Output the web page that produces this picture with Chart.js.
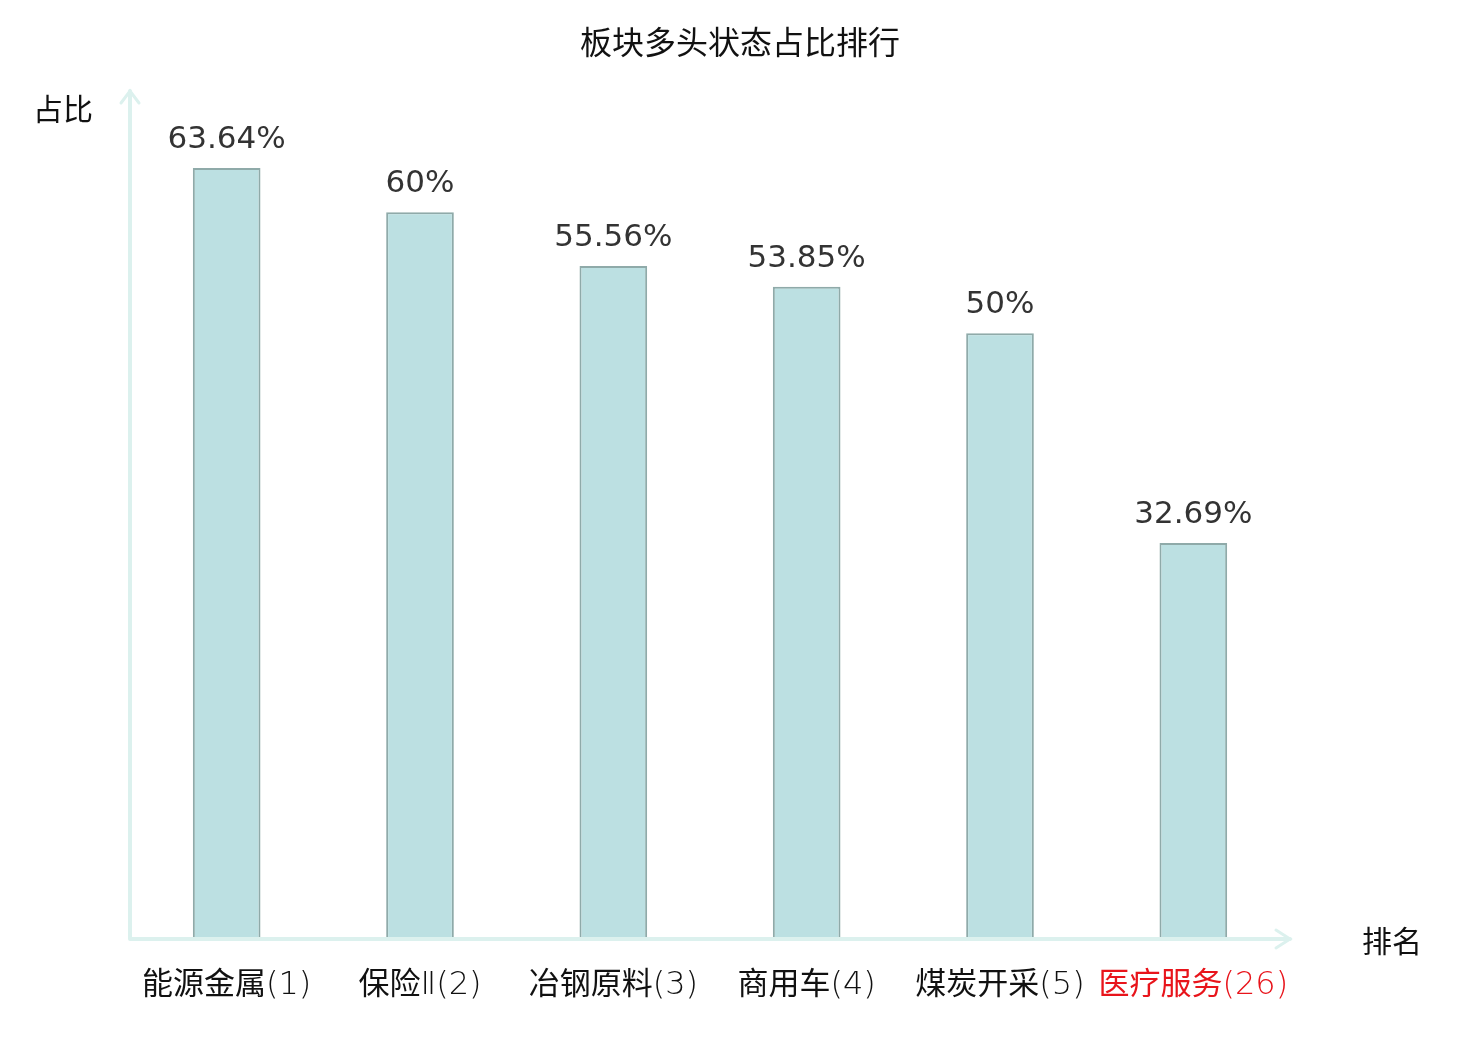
<!DOCTYPE html>
<html>
<head>
<meta charset="utf-8">
<script src="https://cdn.jsdelivr.net/npm/chart.js@4"></script>
<style>
  html, body { margin: 0; padding: 0; background: #fff; }
  #wrap { width: 1480px; height: 1040px; }
</style>
</head>
<body>
<div id="wrap"><canvas id="rankChart"></canvas></div>
<script>
// sectors and their share of bullish state (%)
const sectors = ['能源金属', '保险', '冶钢原料', '商用车', '煤炭开采', '医疗服务'];
const ranks = ['(1)', 'Ⅱ(2)', '(3)', '(4)', '(5)', '(26)'];
const shares = [63.64, 60, 55.56, 53.85, 50, 32.69];
const shareLabels = ['63.64%', '60%', '55.56%', '53.85%', '50%', '32.69%'];
const highlight = [false, false, false, false, false, true];

const CJK = '"Noto Sans CJK SC", "DejaVu Sans", sans-serif';
const AXIS_COLOR = '#dcf1ee';

// axes with arrows, titles and labels drawn by hand
const decor = {
  id: 'decor',
  afterDatasetsDraw(chart) {
    const ctx = chart.ctx;
    const area = chart.chartArea;
    const x = chart.scales.x;
    const y = chart.scales.y;
    const x0 = area.left, y0 = y.getPixelForValue(0);

    ctx.save();
    // axis lines
    ctx.strokeStyle = AXIS_COLOR;
    ctx.lineWidth = 4;
    ctx.lineCap = 'round';
    ctx.beginPath();
    ctx.moveTo(x0, y0);
    ctx.lineTo(x0, area.top);
    ctx.moveTo(x0, y0);
    ctx.lineTo(area.right, y0);
    ctx.stroke();
    // arrow heads
    ctx.lineWidth = 3;
    ctx.beginPath();
    ctx.moveTo(x0 - 9, area.top + 12);
    ctx.lineTo(x0, area.top);
    ctx.lineTo(x0 + 9, area.top + 12);
    ctx.moveTo(area.right - 14, y0 - 9);
    ctx.lineTo(area.right, y0);
    ctx.lineTo(area.right - 14, y0 + 9);
    ctx.stroke();

    // title
    ctx.fillStyle = '#111';
    ctx.textAlign = 'center';
    ctx.textBaseline = 'middle';
    ctx.font = '32px ' + CJK;
    ctx.fillText('板块多头状态占比排行', 740, 42);

    // axis names
    ctx.font = '30px ' + CJK;
    ctx.fillText('占比', 63, 109);
    ctx.fillText('排名', 1392, 941);

    // category labels: name in CJK font, rank in a thin latin font
    const nameFont = '31px ' + CJK;
    const rankFont = '200 32px "DejaVu Sans", sans-serif';
    ctx.textAlign = 'left';
    ctx.textBaseline = 'alphabetic';
    sectors.forEach((s, i) => {
      ctx.font = nameFont;
      const w1 = ctx.measureText(s).width;
      ctx.font = rankFont;
      const w2 = ctx.measureText(ranks[i]).width;
      const left = x.getPixelForValue(i) - (w1 + w2) / 2;
      ctx.fillStyle = highlight[i] ? '#e8141b' : '#111';
      ctx.font = nameFont;
      ctx.fillText(s, left, 994);
      ctx.font = rankFont;
      ctx.fillText(ranks[i], left + w1, 994);
    });

    // value labels
    ctx.textAlign = 'center';
    ctx.textBaseline = 'middle';
    ctx.font = '31px "DejaVu Sans", sans-serif';
    ctx.fillStyle = '#333';
    shares.forEach((v, i) => {
      ctx.fillText(shareLabels[i], x.getPixelForValue(i), y.getPixelForValue(v) - 28);
    });
    ctx.restore();
  }
};

const ctx = document.getElementById('rankChart').getContext('2d');
new Chart(ctx, {
  type: 'bar',
  data: {
    labels: sectors,
    datasets: [{
      data: shares,
      backgroundColor: '#bce0e2',
      borderColor: '#8faaa9',
      borderWidth: 2,
      barPercentage: 0.35,
      categoryPercentage: 1
    }]
  },
  options: {
    responsive: true,
    maintainAspectRatio: false,
    animation: false,
    layout: { padding: { left: 130, right: 190, top: 91, bottom: 101 } },
    scales: {
      x: { display: false },
      y: { display: false, min: 0, max: 70 }
    },
    plugins: {
      legend: { display: false },
      tooltip: { enabled: false }
    }
  },
  plugins: [decor]
});
</script>
</body>
</html>
